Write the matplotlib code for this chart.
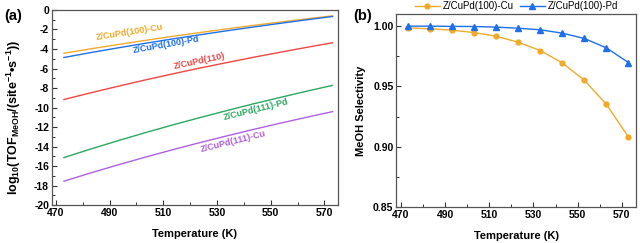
import matplotlib
matplotlib.use("Agg")
import matplotlib.pyplot as plt
from matplotlib.ticker import MultipleLocator

plt.rcParams['font.family'] = ['Liberation Sans', 'DejaVu Sans']
plt.rcParams['mathtext.fontset'] = 'custom'
plt.rcParams['mathtext.rm'] = 'Liberation Sans:bold'
plt.rcParams['mathtext.bf'] = 'Liberation Sans:bold'
plt.rcParams['mathtext.default'] = 'regular'

# ---- data ----
temps = [473, 483, 493, 503, 513, 523, 533, 543, 553, 563, 573]

tof_100_cu = [-4.44, -3.98, -3.55, -3.13, -2.72, -2.34, -1.96, -1.60, -1.26, -0.92, -0.60]
tof_100_pd = [-4.87, -4.37, -3.89, -3.43, -2.99, -2.57, -2.16, -1.77, -1.39, -1.02, -0.67]
tof_110 = [-9.18, -8.49, -7.83, -7.19, -6.58, -5.99, -5.43, -4.88, -4.36, -3.85, -3.36]
tof_111_pd = [-15.13, -14.25, -13.41, -12.60, -11.82, -11.08, -10.36, -9.66, -9.00, -8.35, -7.73]
tof_111_cu = [-17.55, -16.70, -15.89, -15.11, -14.36, -13.64, -12.95, -12.28, -11.64, -11.02, -10.42]

sel_cu = [0.9986, 0.9978, 0.9967, 0.9947, 0.9917, 0.9867, 0.9798, 0.9696, 0.9552, 0.9352, 0.9081]
sel_pd = [1.0000, 1.0000, 0.9998, 0.9997, 0.9992, 0.9983, 0.9970, 0.9942, 0.9898, 0.9820, 0.9698]

labels_a = ['Z/CuPd(100)-Cu', 'Z/CuPd(100)-Pd', 'Z/CuPd(110)', 'Z/CuPd(111)-Pd', 'Z/CuPd(111)-Cu']
x_ticks = [470, 490, 510, 530, 550, 570]

c_orange = '#F0AA2A'
c_blue = '#1F6FE8'
c_red = '#F04545'
c_green = '#2BA860'
c_purple = '#B060E0'
spine_c = '#555555'

fig = plt.figure(figsize=(6.4, 2.43), dpi=100)
axa = fig.add_axes([0.081, 0.156, 0.447, 0.803])
axb = fig.add_axes([0.619, 0.148, 0.375, 0.794])

def style(ax):
    for s in ax.spines.values():
        s.set_color(spine_c)
        s.set_linewidth(0.9)
    ax.tick_params(which='both', direction='in', top=False, right=False,
                   labelsize=7.5, pad=2, color='#333333')
    ax.tick_params(which='major', length=3.5, width=0.8)
    ax.tick_params(which='minor', length=2, width=0.7)
    for lab in ax.get_xticklabels() + ax.get_yticklabels():
        lab.set_fontweight('bold')

# ---- panel a ----
series = [tof_100_cu, tof_100_pd, tof_110, tof_111_pd, tof_111_cu]
colors = [c_orange, c_blue, c_red, c_green, c_purple]
for ys, c in zip(series, colors):
    axa.plot(temps, ys, color=c, lw=1.0)
axa.set_xlim(468.5, 575)
axa.set_ylim(-20, 0)
axa.set_xticks(x_ticks)
axa.xaxis.set_minor_locator(MultipleLocator(10))
axa.set_yticks(range(-20, 1, 2))
axa.set_yticklabels([str(v) for v in range(-20, 1, 2)])
axa.yaxis.set_minor_locator(MultipleLocator(1))
style(axa)
axa.set_xlabel('Temperature (K)', fontsize=8, fontweight='bold', labelpad=8)
axa.set_ylabel(r'log$_{10}$(TOF$_{MeOH}$/(site$^{-1}$•s$^{-1}$))', fontsize=9.0,
               fontweight='bold')
axa.yaxis.set_label_coords(-0.1, 0.45)

lab_pos = [(497.5, -2.3, 9), (511, -3.55, 10), (523.6, -5.25, 12),
           (544.5, -10.2, 14), (535.9, -13.5, 14)]
for lab, (x, y, r), c in zip(labels_a, lab_pos, colors):
    axa.text(x, y, lab, color=c, fontsize=6.5, fontweight='bold', rotation=r,
             ha='center', va='center', rotation_mode='anchor')
fig.text(0.006, 0.935, '(a)', fontsize=10.5, fontweight='bold', va='center')

# ---- panel b ----
axb.plot(temps, sel_cu, color=c_orange, marker='o', ms=3.5, lw=1.0, label='Z/CuPd(100)-Cu')
axb.plot(temps, sel_pd, color=c_blue, marker='^', ms=3.8, lw=1.0, label='Z/CuPd(100)-Pd')
axb.set_xlim(467.8, 576.5)
axb.set_ylim(0.85, 1.010)
axb.set_xticks(x_ticks)
axb.xaxis.set_minor_locator(MultipleLocator(10))
axb.set_yticks([0.85, 0.90, 0.95, 1.00])
axb.set_yticklabels(['0.85', '0.90', '0.95', '1.00'])
axb.yaxis.set_minor_locator(MultipleLocator(0.025))
style(axb)
axb.set_xlabel('Temperature (K)', fontsize=8, fontweight='bold', labelpad=8)
axb.set_ylabel('MeOH Selectivity', fontsize=8, fontweight='bold', labelpad=5)
axb.legend(loc='center right', bbox_to_anchor=(0.925, 1.041), ncol=2, frameon=False,
           fontsize=7, handlelength=2.6, columnspacing=0.6, handletextpad=0.3,
           borderaxespad=0, borderpad=0)
fig.text(0.552, 0.935, '(b)', fontsize=10.5, fontweight='bold', va='center')

fig.savefig('out.png', dpi=100)
